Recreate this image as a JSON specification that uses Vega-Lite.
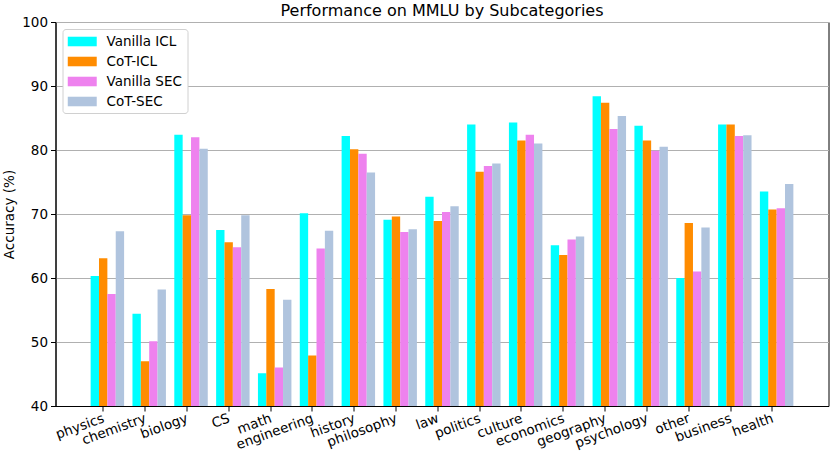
{
  "$schema": "https://vega.github.io/schema/vega-lite/v6.json",
  "width": 773,
  "height": 384,
  "autosize": "none",
  "padding": {"left": 55.5, "top": 22, "right": 2.5, "bottom": 55},
  "title": {
    "text": "Performance on MMLU by Subcategories",
    "font": "DejaVu Sans",
    "fontSize": 16,
    "fontWeight": "normal",
    "color": "black",
    "anchor": "middle",
    "offset": -4
  },
  "config": {
    "font": "DejaVu Sans",
    "view": {"stroke": "black", "strokeWidth": 1},
    "axis": {
      "labelFont": "DejaVu Sans",
      "labelFontSize": 13.5,
      "labelColor": "black",
      "titleFont": "DejaVu Sans",
      "titleFontSize": 13.5,
      "titleFontWeight": "normal",
      "titleColor": "black",
      "domainColor": "black",
      "tickColor": "black",
      "tickSize": 5,
      "tickWidth": 1
    }
  },
  "data": {
    "values": [
      {"category": "physics", "method": "Vanilla ICL", "accuracy": 60.3},
      {"category": "physics", "method": "CoT-ICL", "accuracy": 63.1},
      {"category": "physics", "method": "Vanilla SEC", "accuracy": 57.5},
      {"category": "physics", "method": "CoT-SEC", "accuracy": 67.3},
      {"category": "chemistry", "method": "Vanilla ICL", "accuracy": 54.4},
      {"category": "chemistry", "method": "CoT-ICL", "accuracy": 47.0},
      {"category": "chemistry", "method": "Vanilla SEC", "accuracy": 50.1},
      {"category": "chemistry", "method": "CoT-SEC", "accuracy": 58.2},
      {"category": "biology", "method": "Vanilla ICL", "accuracy": 82.4},
      {"category": "biology", "method": "CoT-ICL", "accuracy": 69.8},
      {"category": "biology", "method": "Vanilla SEC", "accuracy": 82.0},
      {"category": "biology", "method": "CoT-SEC", "accuracy": 80.2},
      {"category": "CS", "method": "Vanilla ICL", "accuracy": 67.5},
      {"category": "CS", "method": "CoT-ICL", "accuracy": 65.6},
      {"category": "CS", "method": "Vanilla SEC", "accuracy": 64.8},
      {"category": "CS", "method": "CoT-SEC", "accuracy": 69.8},
      {"category": "math", "method": "Vanilla ICL", "accuracy": 45.1},
      {"category": "math", "method": "CoT-ICL", "accuracy": 58.3},
      {"category": "math", "method": "Vanilla SEC", "accuracy": 46.0},
      {"category": "math", "method": "CoT-SEC", "accuracy": 56.6},
      {"category": "engineering", "method": "Vanilla ICL", "accuracy": 70.1},
      {"category": "engineering", "method": "CoT-ICL", "accuracy": 47.9},
      {"category": "engineering", "method": "Vanilla SEC", "accuracy": 64.6},
      {"category": "engineering", "method": "CoT-SEC", "accuracy": 67.4},
      {"category": "history", "method": "Vanilla ICL", "accuracy": 82.2},
      {"category": "history", "method": "CoT-ICL", "accuracy": 80.1},
      {"category": "history", "method": "Vanilla SEC", "accuracy": 79.4},
      {"category": "history", "method": "CoT-SEC", "accuracy": 76.5},
      {"category": "philosophy", "method": "Vanilla ICL", "accuracy": 69.1},
      {"category": "philosophy", "method": "CoT-ICL", "accuracy": 69.6},
      {"category": "philosophy", "method": "Vanilla SEC", "accuracy": 67.2},
      {"category": "philosophy", "method": "CoT-SEC", "accuracy": 67.6},
      {"category": "law", "method": "Vanilla ICL", "accuracy": 72.7},
      {"category": "law", "method": "CoT-ICL", "accuracy": 68.9},
      {"category": "law", "method": "Vanilla SEC", "accuracy": 70.3},
      {"category": "law", "method": "CoT-SEC", "accuracy": 71.2},
      {"category": "politics", "method": "Vanilla ICL", "accuracy": 84.0},
      {"category": "politics", "method": "CoT-ICL", "accuracy": 76.6},
      {"category": "politics", "method": "Vanilla SEC", "accuracy": 77.5},
      {"category": "politics", "method": "CoT-SEC", "accuracy": 77.9},
      {"category": "culture", "method": "Vanilla ICL", "accuracy": 84.3},
      {"category": "culture", "method": "CoT-ICL", "accuracy": 81.5},
      {"category": "culture", "method": "Vanilla SEC", "accuracy": 82.4},
      {"category": "culture", "method": "CoT-SEC", "accuracy": 81.0},
      {"category": "economics", "method": "Vanilla ICL", "accuracy": 65.1},
      {"category": "economics", "method": "CoT-ICL", "accuracy": 63.6},
      {"category": "economics", "method": "Vanilla SEC", "accuracy": 66.0},
      {"category": "economics", "method": "CoT-SEC", "accuracy": 66.5},
      {"category": "geography", "method": "Vanilla ICL", "accuracy": 88.4},
      {"category": "geography", "method": "CoT-ICL", "accuracy": 87.4},
      {"category": "geography", "method": "Vanilla SEC", "accuracy": 83.3},
      {"category": "geography", "method": "CoT-SEC", "accuracy": 85.3},
      {"category": "psychology", "method": "Vanilla ICL", "accuracy": 83.8},
      {"category": "psychology", "method": "CoT-ICL", "accuracy": 81.5},
      {"category": "psychology", "method": "Vanilla SEC", "accuracy": 79.9},
      {"category": "psychology", "method": "CoT-SEC", "accuracy": 80.5},
      {"category": "other", "method": "Vanilla ICL", "accuracy": 60.0},
      {"category": "other", "method": "CoT-ICL", "accuracy": 68.6},
      {"category": "other", "method": "Vanilla SEC", "accuracy": 61.0},
      {"category": "other", "method": "CoT-SEC", "accuracy": 67.9},
      {"category": "business", "method": "Vanilla ICL", "accuracy": 84.0},
      {"category": "business", "method": "CoT-ICL", "accuracy": 84.0},
      {"category": "business", "method": "Vanilla SEC", "accuracy": 82.2},
      {"category": "business", "method": "CoT-SEC", "accuracy": 82.3},
      {"category": "health", "method": "Vanilla ICL", "accuracy": 73.5},
      {"category": "health", "method": "CoT-ICL", "accuracy": 70.7},
      {"category": "health", "method": "Vanilla SEC", "accuracy": 70.9},
      {"category": "health", "method": "CoT-SEC", "accuracy": 74.7}
    ]
  },
  "mark": {"type": "bar", "clip": true},
  "encoding": {
    "x": {
      "field": "category",
      "type": "nominal",
      "sort": null,
      "scale": {"paddingInner": 0.2, "paddingOuter": 0.84},
      "axis": {
        "title": null,
        "labelAngle": -20,
        "labelAlign": "right",
        "labelBaseline": "top",
        "labelPadding": 0,
        "labelOffset": -6,
        "bandPosition": 0.375,
        "grid": false
      }
    },
    "xOffset": {
      "field": "method",
      "type": "nominal",
      "sort": ["Vanilla ICL", "CoT-ICL", "Vanilla SEC", "CoT-SEC"],
      "scale": {"paddingInner": 0, "paddingOuter": 0}
    },
    "y": {
      "field": "accuracy",
      "type": "quantitative",
      "title": "Accuracy (%)",
      "scale": {"domain": [40, 100], "nice": false, "zero": false},
      "axis": {
        "values": [40, 50, 60, 70, 80, 90, 100],
        "grid": true,
        "gridColor": "#b0b0b0",
        "gridWidth": 1.1,
        "labelPadding": 3,
        "titlePadding": 5
      }
    },
    "color": {
      "field": "method",
      "type": "nominal",
      "sort": ["Vanilla ICL", "CoT-ICL", "Vanilla SEC", "CoT-SEC"],
      "scale": {
        "domain": ["Vanilla ICL", "CoT-ICL", "Vanilla SEC", "CoT-SEC"],
        "range": ["#00ffff", "#ff8c00", "#ee82ee", "#b0c4de"]
      },
      "legend": {
        "title": null,
        "orient": "top-left",
        "offset": 7,
        "padding": 5,
        "fillColor": "white",
        "strokeColor": "#d0d0d0",
        "cornerRadius": 3,
        "symbolType": "M-1,-0.66L3,-0.66L3,0.66L-1,0.66Z",
        "symbolSize": 210,
        "symbolStrokeWidth": 0,
        "symbolOpacity": 1,
        "labelFont": "DejaVu Sans",
        "labelFontSize": 13.5,
        "labelColor": "black",
        "labelOffset": 24,
        "rowPadding": 6
      }
    }
  }
}
